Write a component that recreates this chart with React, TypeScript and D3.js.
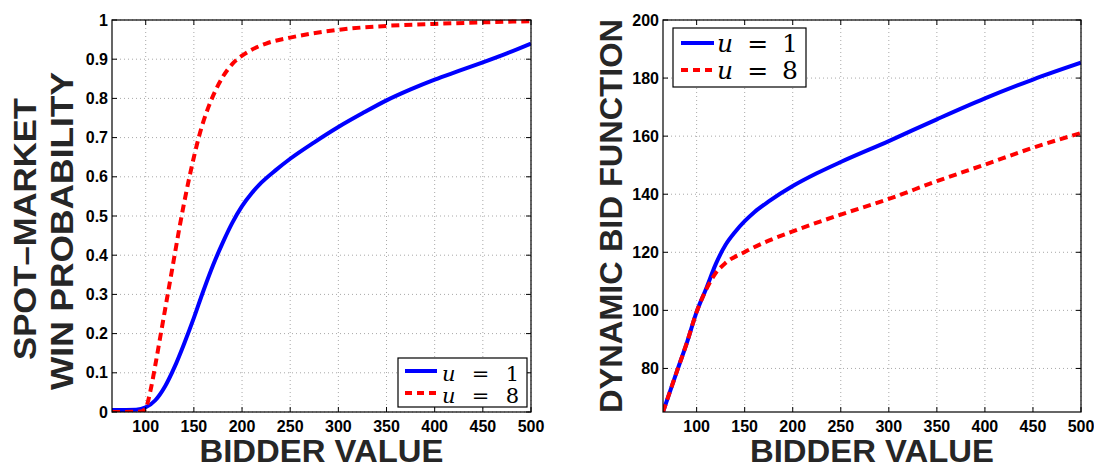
import React from 'react';
import * as d3 from 'd3';

// x axis: bidder value
const bidderTicks = [100, 150, 200, 250, 300, 350, 400, 450, 500];
// left panel y axis
const probTicks = [0, 0.1, 0.2, 0.3, 0.4, 0.5, 0.6, 0.7, 0.8, 0.9, 1];
// right panel y axis
const bidFnTicks = [80, 100, 120, 140, 160, 180, 200];

// spot-market win probability, u = 1
const winProbU1: [number, number][] = [
  [65, 0.005], [90, 0.006], [100, 0.012], [110, 0.03], [120, 0.065], [130, 0.115],
  [140, 0.175], [150, 0.24], [160, 0.31], [170, 0.375], [180, 0.432], [190, 0.483],
  [200, 0.525], [210, 0.558], [220, 0.585], [235, 0.617], [250, 0.646], [275, 0.688],
  [300, 0.727], [325, 0.762], [350, 0.795], [375, 0.823], [400, 0.848], [425, 0.87],
  [450, 0.892], [475, 0.915], [500, 0.94]
];
// spot-market win probability, u = 8
const winProbU8: [number, number][] = [
  [65, 0], [95, 0.001], [100, 0.01], [105, 0.055], [110, 0.12], [115, 0.19],
  [120, 0.26], [125, 0.33], [130, 0.4], [135, 0.47], [140, 0.535], [145, 0.595],
  [150, 0.65], [155, 0.7], [160, 0.742], [165, 0.777], [170, 0.807], [180, 0.855],
  [190, 0.888], [200, 0.909], [210, 0.924], [225, 0.94], [250, 0.955], [300, 0.975],
  [350, 0.985], [400, 0.99], [450, 0.994], [500, 0.997]
];
// dynamic bid function, u = 1
const bidFnU1: [number, number][] = [
  [65, 65], [80, 79.5], [90, 89], [100, 99.5], [110, 107.5], [120, 116],
  [130, 122.5], [140, 127], [150, 130.7], [160, 133.8], [175, 137.5], [200, 142.8],
  [225, 147.2], [250, 151.1], [300, 158.3], [350, 165.8], [400, 173], [450, 179.5],
  [500, 185.3]
];
// dynamic bid function, u = 8
const bidFnU8: [number, number][] = [
  [65, 65], [80, 79.5], [90, 89], [100, 99.5], [110, 107.2], [120, 112.9],
  [130, 116.3], [150, 120.1], [175, 124], [200, 127.2], [250, 133], [300, 138.4],
  [350, 144.5], [400, 150.2], [450, 156], [500, 161.1]
];

const legendLabels = ['1', '8'];

const BLUE = '#0000ff';
const RED = '#ff0000';
const TITLE = '#262626';
const tickFont = { fontFamily: 'Liberation Sans, Arial, sans-serif', fontWeight: 700, fontSize: 16 };

type Box = { x0: number; x1: number; y0: number; y1: number };
type Legend = {
  x: number; y: number; w: number; h: number;
  lx1: number; lx2: number; rows: number[]; base: number[];
  tx: number; size: number;
};

function Panel(props: {
  id: string; box: Box; yDomain: [number, number]; yTicks: number[];
  yFmt: (v: number) => string; u1: [number, number][]; u8: [number, number][];
  legend: Legend;
}) {
  const { id, box, yDomain, yTicks, yFmt, u1, u8, legend } = props;
  const x = d3.scaleLinear().domain([65, 500]).range([box.x0, box.x1]);
  const y = d3.scaleLinear().domain(yDomain).range([box.y1, box.y0]);
  const line = d3.line<[number, number]>()
    .x(d => x(d[0])).y(d => y(d[1]))
    .curve(d3.curveMonotoneX);
  const tl = 5;
  return (
    <g>
      <defs>
        <clipPath id={id}>
          <rect x={box.x0} y={box.y0 - 2} width={box.x1 - box.x0} height={box.y1 - box.y0 + 2} />
        </clipPath>
      </defs>
      <rect x={box.x0} y={box.y0} width={box.x1 - box.x0} height={box.y1 - box.y0} fill="#fff" />
      {/* grid */}
      {bidderTicks.map(t => (
        <line key={'gx' + t} x1={x(t)} x2={x(t)} y1={box.y0} y2={box.y1}
          stroke="#a8a8a8" strokeWidth={1} strokeDasharray="1,3" />
      ))}
      {yTicks.map(t => (
        <line key={'gy' + t} x1={box.x0} x2={box.x1} y1={y(t)} y2={y(t)}
          stroke="#a8a8a8" strokeWidth={1} strokeDasharray="1,3" />
      ))}
      {/* series */}
      <g clipPath={`url(#${id})`}>
        <path d={line(u1) || ''} fill="none" stroke={BLUE} strokeWidth={4} />
        <path d={line(u8) || ''} fill="none" stroke={RED} strokeWidth={4} strokeDasharray="8,5" />
      </g>
      {/* box and ticks */}
      <rect x={box.x0} y={box.y0} width={box.x1 - box.x0} height={box.y1 - box.y0}
        fill="none" stroke="#000" strokeWidth={1.2} />
      {bidderTicks.map(t => (
        <g key={'tx' + t}>
          <line x1={x(t)} x2={x(t)} y1={box.y1} y2={box.y1 - tl} stroke="#000" />
          <line x1={x(t)} x2={x(t)} y1={box.y0} y2={box.y0 + tl} stroke="#000" />
          <text x={x(t)} y={box.y1 + 20} textAnchor="middle" {...tickFont}>{t}</text>
        </g>
      ))}
      {yTicks.map(t => (
        <g key={'ty' + t}>
          <line x1={box.x0} x2={box.x0 + tl} y1={y(t)} y2={y(t)} stroke="#000" />
          <line x1={box.x1} x2={box.x1 - tl} y1={y(t)} y2={y(t)} stroke="#000" />
          <text x={box.x0 - 4} y={y(t)} dy="0.35em" textAnchor="end" {...tickFont}>{yFmt(t)}</text>
        </g>
      ))}
      {/* legend */}
      <rect x={legend.x} y={legend.y} width={legend.w} height={legend.h}
        fill="#fff" stroke="#000" strokeWidth={1.2} />
      {legendLabels.map((lab, i) => (
        <g key={'lg' + lab}>
          <line x1={legend.lx1} x2={legend.lx2} y1={legend.rows[i]} y2={legend.rows[i]}
            stroke={i === 0 ? BLUE : RED} strokeWidth={4} strokeDasharray={i === 0 ? undefined : '7,5'} />
          <text x={legend.tx} y={legend.base[i]} fontFamily="DejaVu Serif, serif" fontSize={legend.size}
            textLength={legend.w - (legend.tx - legend.x) - 8} lengthAdjust="spacing">
            <tspan fontStyle="italic">u</tspan> = {lab}
          </text>
        </g>
      ))}
      {/* x title */}
      <text x={(box.x0 + box.x1) / 2} y={462} textAnchor="middle" fill={TITLE}
        fontFamily="Liberation Sans, Arial, sans-serif" fontWeight={700} fontSize={32}
        textLength={244} lengthAdjust="spacingAndGlyphs">BIDDER VALUE</text>
    </g>
  );
}

export default function App() {
  const leftBox = { x0: 112, x1: 531, y0: 20, y1: 412 };
  const rightBox = { x0: 663, x1: 1081, y0: 20, y1: 412 };
  const titleFont = {
    fontFamily: 'Liberation Sans, Arial, sans-serif', fontWeight: 700, fontSize: 32,
    fill: TITLE, lengthAdjust: 'spacingAndGlyphs'
  };
  return (
    <svg width={1094} height={468} style={{ position: 'absolute', left: 0, top: 0, background: '#fff' }}>
      <rect width={1094} height={468} fill="#fff" />
      <Panel id="clipL" box={leftBox} yDomain={[0, 1]} yTicks={probTicks}
        yFmt={v => (v === 0 || v === 1 ? String(v) : v.toFixed(1))}
        u1={winProbU1} u8={winProbU8}
        legend={{ x: 398, y: 358, w: 129, h: 49, lx1: 405, lx2: 437, rows: [371, 393],
          base: [381, 403], tx: 442, size: 21 }} />
      <Panel id="clipR" box={rightBox} yDomain={[65, 200]} yTicks={bidFnTicks}
        yFmt={v => String(v)} u1={bidFnU1} u8={bidFnU8}
        legend={{ x: 673, y: 28, w: 133, h: 59, lx1: 681, lx2: 714, rows: [43, 70],
          base: [52, 79], tx: 717, size: 25 }} />
      <text transform="translate(36,229) rotate(-90)" textAnchor="middle" textLength={262} {...titleFont}>SPOT–MARKET</text>
      <text transform="translate(73,231) rotate(-90)" textAnchor="middle" textLength={318} {...titleFont}>WIN PROBABILITY</text>
      <text transform="translate(622,216) rotate(-90)" textAnchor="middle" textLength={394} {...titleFont}>DYNAMIC BID FUNCTION</text>
    </svg>
  );
}
